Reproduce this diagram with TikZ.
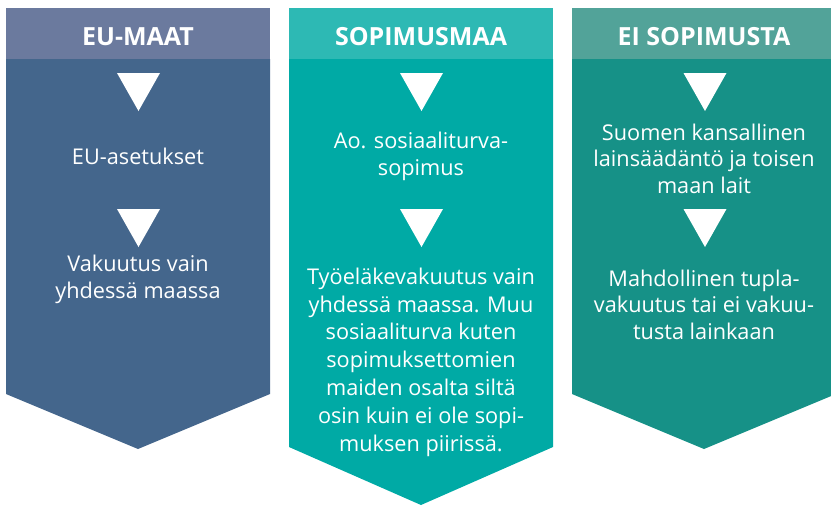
\documentclass[tikz,border=0pt]{standalone}
\usepackage{fontspec}
\setmainfont{Open Sans}
\newfontfamily\headfont{Open Sans}
\definecolor{euhead}{HTML}{6B7A9E}
\definecolor{eubody}{HTML}{44668C}
\definecolor{sohead}{HTML}{2DB9B4}
\definecolor{sobody}{HTML}{00AAA5}
\definecolor{eihead}{HTML}{52A399}
\definecolor{eibody}{HTML}{169187}
\begin{document}
\begin{tikzpicture}[x=1pt,y=-1pt,
  headtxt/.style={text=white,font=\headfont\bfseries\fontsize{25}{30}\selectfont,anchor=base,inner sep=0pt},
  bodytxt/.style={text=white,font=\fontsize{21.7}{26.3}\selectfont,align=center,anchor=base,inner sep=0pt},
  longtxt/.style={bodytxt,font=\fontsize{21.7}{27.8}\selectfont},
  arrowtri/.style={fill=white}]
\useasboundingbox (0,0) rectangle (831,509);
\clip (0,0) rectangle (831,509);
% column 1
\fill[eubody] (6,59) -- (270,59) -- (270,394) -- (138,449) -- (6,394) -- cycle;
\fill[euhead] (6,8) rectangle (270,59);
% column 2
\fill[sobody] (289,59) -- (553,59) -- (553,447) -- (421,505) -- (289,447) -- cycle;
\fill[sohead] (289,8) rectangle (553,59);
% column 3
\fill[eibody] (572,59) -- (836,59) -- (836,394) -- (704,449) -- (572,394) -- cycle;
\fill[eihead] (572,8) rectangle (836,59);
% triangles
\foreach \cx in {138.5,421.5,705}{
  \fill[arrowtri] (\cx-21.5,73) -- (\cx+21.5,73) -- (\cx,111) -- cycle;
  \fill[arrowtri] (\cx-21.5,209) -- (\cx+21.5,209) -- (\cx,247) -- cycle;
}
% headers
\node[headtxt] (h1) at (138,45) {EU-MAAT};
\node[headtxt] (h2) at (421,45) {SOPIMUSMAA};
\node[headtxt] (h3) at (704,45) {EI SOPIMUSTA};
% column 1 texts (anchor base = last line's baseline)
\node[bodytxt] (a1) at (138,164) {EU-asetukset};
\node[bodytxt] (a2) at (138,298) {Vakuutus vain\\yhdessä maassa};
% column 2 texts
\node[bodytxt] (b1) at (421,175) {Ao. sosiaaliturva-\\sopimus};
\node[longtxt] (b2) at (421,451) {Työeläkevakuutus vain\\yhdessä maassa. Muu\\sosiaaliturva kuten\\sopimuksettomien\\maiden osalta siltä\\osin kuin ei ole sopi-\\muksen piirissä.};
% column 3 texts
\node[bodytxt] (c1) at (704,193) {Suomen kansallinen\\lainsäädäntö ja toisen\\maan lait};
\node[bodytxt] (c2) at (704,339) {Mahdollinen tupla-\\vakuutus tai ei vakuu-\\tusta lainkaan};
\end{tikzpicture}
\end{document}
